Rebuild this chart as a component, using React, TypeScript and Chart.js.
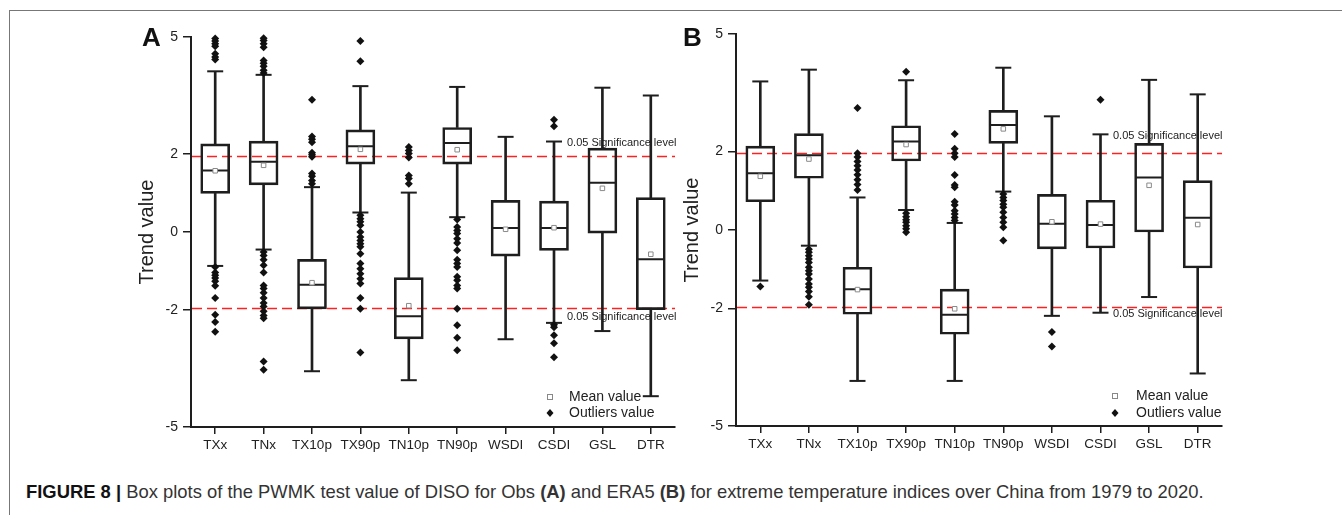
import React, { useEffect, useRef } from 'react';
import { Chart, registerables } from 'chart.js';

Chart.register(...registerables);

const FONT = "'Liberation Sans', Arial, Helvetica, sans-serif";

// ---------- data ----------
const categories = ['TXx', 'TNx', 'TX10p', 'TX90p', 'TN10p', 'TN90p', 'WSDI', 'CSDI', 'GSL', 'DTR'];
const yTickValues = [5, 2, 0, -2, -5];
const significance = 1.96;
const significanceLabel = '0.05 Significance level';
const legendLabels = ['Mean value', 'Outliers value'];

// Panel A: Obs
const obsLow = [-0.87, -0.45, -3.57, 0.5, -3.8, 0.38, -2.75, -2.33, -2.54, -4.21];
const obsQ1 = [0.99, 1.21, -1.97, 1.74, -2.74, 1.74, -0.62, -0.47, -0.03, -1.99];
const obsMedian = [1.58, 1.8, -1.35, 2.2, -2.16, 2.28, 0.1, 0.1, 1.26, -0.7];
const obsQ3 = [2.26, 2.33, -0.7, 2.62, -1.17, 2.68, 0.81, 0.79, 2.15, 0.88];
const obsHigh = [4.12, 4.03, 1.15, 3.74, 1.01, 3.72, 2.44, 2.32, 3.7, 3.5];
const obsMean = [1.57, 1.71, -1.3, 2.12, -1.89, 2.11, 0.07, 0.11, 1.12, -0.57];
const obsOutliers: number[][] = [
  [4.96, 4.9, 4.83, 4.76, 4.57, 4.49, 4.42, -0.9, -1.04, -1.11, -1.18, -1.26, -1.38, -1.69, -2.12, -2.31, -2.56],
  [4.97, 4.91, 4.83, 4.74, 4.4, 4.33, 4.25, 4.15, 4.08, -0.51, -0.6, -0.71, -0.85, -1.04, -1.37, -1.45, -1.56, -1.69, -1.82, -1.91, -2.03, -2.14, -2.21, -3.32, -3.53],
  [3.39, 2.45, 2.38, 2.3, 2.03, 1.98, 1.93, 1.5, 1.43, 1.32, 1.24],
  [4.9, 4.38, 0.43, 0.34, 0.26, 0.17, 0.0, -0.13, -0.22, -0.3, -0.38, -0.56, -0.81, -0.94, -1.07, -1.2, -1.32, -1.69, -1.97, -3.09],
  [2.18, 2.09, 2.01, 1.91, 1.45, 1.37, 1.24],
  [0.32, 0.13, 0.04, -0.04, -0.17, -0.28, -0.47, -0.71, -0.81, -0.9, -1.15, -1.24, -1.37, -1.45, -1.97, -2.39, -2.71, -3.03],
  [],
  [2.88, 2.71, -2.38, -2.44, -2.65, -2.85, -3.21],
  [],
  [],
];

// Panel B: ERA5
const eraLow = [-1.29, -0.4, -3.85, 0.51, -3.85, 0.98, -2.19, -2.11, -1.71, -3.66];
const eraQ1 = [0.72, 1.32, -2.15, 1.76, -2.66, 2.21, -0.48, -0.46, -0.05, -0.97];
const eraMedian = [1.45, 1.91, -1.51, 2.26, -2.16, 2.68, 0.16, 0.13, 1.34, 0.31];
const eraQ3 = [2.14, 2.46, -0.95, 2.66, -1.51, 3.05, 0.91, 0.76, 2.21, 1.26];
const eraHigh = [3.79, 4.09, 0.83, 3.82, 0.18, 4.14, 2.9, 2.44, 3.83, 3.46];
const eraMean = [1.37, 1.81, -1.52, 2.18, -2.01, 2.58, 0.21, 0.15, 1.14, 0.14];
const eraOutliers: number[][] = [
  [-1.44],
  [-0.49, -0.57, -0.66, -0.74, -0.83, -0.95, -1.04, -1.12, -1.25, -1.38, -1.46, -1.57, -1.7, -1.91],
  [3.11, 1.96, 1.86, 1.75, 1.64, 1.53, 1.41, 1.28, 1.16, 1.02],
  [4.04, 0.43, 0.34, 0.26, 0.2, 0.11, 0.03, -0.06],
  [2.45, 2.07, 1.96, 1.86, 1.4, 1.15, 1.09, 0.72, 0.64, 0.49, 0.41, 0.32, 0.24],
  [0.92, 0.83, 0.75, 0.66, 0.58, 0.45, 0.32, 0.2, 0.07, -0.27],
  [-2.6, -2.97],
  [3.32],
  [],
  [],
];

// ---------- chart config ----------
type PanelCfg = {
  letter: string;
  low: number[]; q1: number[]; median: number[]; q3: number[]; high: number[]; mean: number[]; outliers: number[][];
  padTop: number; padRight: number; xAxisHeight: number;
  letterX: number; sigX: number; sigValues: number[];
  legendMarkerX: number; legendTextX: number; legendY: number[];
};

const DARK = '#1e1e1e';

const annotPlugin = {
  id: 'annot',
  beforeDatasetsDraw(chart: any, _args: any, opts: any) {
    const { ctx, chartArea, scales } = chart;
    const y = scales.y;
    ctx.save();
    ctx.strokeStyle = '#ff2020';
    ctx.lineWidth = 1.5;
    ctx.setLineDash([10, 5]);
    for (const v of [significance, -significance]) {
      const py = Math.round(y.getPixelForValue(v)) + 0.5;
      ctx.beginPath();
      ctx.moveTo(chartArea.left + 1, py);
      ctx.lineTo(chartArea.right, py);
      ctx.stroke();
    }
    ctx.restore();
  },
  afterDraw(chart: any, _args: any, opts: any) {
    const { ctx, scales } = chart;
    const y = scales.y;
    ctx.save();
    // significance labels
    ctx.fillStyle = '#222';
    ctx.font = `11px ${FONT}`;
    ctx.textAlign = 'left';
    ctx.textBaseline = 'middle';
    for (const v of opts.sigValues) {
      ctx.fillText(significanceLabel, opts.sigX, y.getPixelForValue(v));
    }
    // panel letter
    ctx.font = `bold 26px ${FONT}`;
    ctx.fillStyle = '#111';
    ctx.fillText(opts.letter, opts.letterX, 39);
    // legend
    ctx.font = `14px ${FONT}`;
    ctx.fillStyle = '#222';
    const mx = opts.legendMarkerX;
    const [y1, y2] = opts.legendY;
    ctx.fillText(legendLabels[0], opts.legendTextX, y1);
    ctx.fillText(legendLabels[1], opts.legendTextX, y2);
    ctx.lineWidth = 1;
    ctx.strokeStyle = '#888';
    ctx.fillStyle = '#fff';
    ctx.fillRect(mx - 2.5, y1 - 2.5, 5, 5);
    ctx.strokeRect(mx - 2.5, y1 - 2.5, 5, 5);
    ctx.fillStyle = '#111';
    ctx.beginPath();
    ctx.moveTo(mx, y2 - 4);
    ctx.lineTo(mx + 3.5, y2);
    ctx.lineTo(mx, y2 + 4);
    ctx.lineTo(mx - 3.5, y2);
    ctx.closePath();
    ctx.fill();
    ctx.restore();
  },
};

function makeConfig(p: PanelCfg): any {
  const lowerWhisker = categories.map((_, i) => [p.low[i], p.q1[i]]);
  const upperWhisker = categories.map((_, i) => [p.q3[i], p.high[i]]);
  const boxes = categories.map((_, i) => [p.q1[i], p.q3[i]]);
  const caps = categories.flatMap((c, i) => [{ x: c, y: p.low[i] }, { x: c, y: p.high[i] }]);
  const medians = categories.map((c, i) => ({ x: c, y: p.median[i] }));
  const means = categories.map((c, i) => ({ x: c, y: p.mean[i] }));
  const outs = categories.flatMap((c, i) => p.outliers[i].map((v) => ({ x: c, y: v })));

  return {
    type: 'bar',
    data: {
      labels: categories,
      datasets: [
        { type: 'bar', data: lowerWhisker, barThickness: 2, backgroundColor: DARK, borderWidth: 0, grouped: false, order: 7 },
        { type: 'bar', data: upperWhisker, barThickness: 2, backgroundColor: DARK, borderWidth: 0, grouped: false, order: 6 },
        { type: 'bar', data: boxes, barThickness: 29, backgroundColor: 'rgba(255,255,255,0)', borderColor: DARK, borderWidth: 2, borderSkipped: false, grouped: false, order: 5 },
        { type: 'line', data: caps, showLine: false, pointStyle: 'line', pointRadius: 8, pointBorderWidth: 2, pointBorderColor: DARK, order: 4, clip: false },
        { type: 'line', data: medians, showLine: false, pointStyle: 'line', pointRadius: 13.5, pointBorderWidth: 2, pointBorderColor: DARK, order: 3 },
        { type: 'line', data: means, showLine: false, pointStyle: 'rect', pointRadius: 3.2, pointBorderWidth: 1, pointBorderColor: '#8a8a8a', pointBackgroundColor: '#fff', order: 2 },
        { type: 'line', data: outs, showLine: false, pointStyle: 'rectRot', pointRadius: 4, pointBorderWidth: 0, pointBorderColor: '#111', pointBackgroundColor: '#111', order: 1, clip: false },
      ],
    },
    options: {
      animation: false,
      responsive: false,
      maintainAspectRatio: false,
      events: [],
      layout: { padding: { top: p.padTop, right: p.padRight, left: 0, bottom: 0 } },
      plugins: {
        legend: { display: false },
        tooltip: { enabled: false },
        annot: {
          letter: p.letter, letterX: p.letterX, sigX: p.sigX, sigValues: p.sigValues,
          legendMarkerX: p.legendMarkerX, legendTextX: p.legendTextX, legendY: p.legendY,
        },
      },
      scales: {
        x: {
          type: 'category',
          offset: true,
          grid: { display: true, drawOnChartArea: false, drawTicks: true, tickLength: 7, color: DARK, lineWidth: 1.5, offset: false },
          border: { display: true, color: DARK, width: 2 },
          ticks: { font: { family: FONT, size: 13.5 }, color: '#222', padding: 3, maxRotation: 0, autoSkip: false },
          afterFit: (s: any) => { s.height = p.xAxisHeight; },
        },
        y: {
          type: 'linear',
          min: -5,
          max: 5,
          afterBuildTicks: (s: any) => { s.ticks = yTickValues.map((v) => ({ value: v })); },
          grid: { display: true, drawOnChartArea: false, drawTicks: true, tickLength: 8, color: DARK, lineWidth: 1.5 },
          border: { display: true, color: DARK, width: 2 },
          ticks: { font: { family: FONT, size: 14 }, color: '#222', padding: 5 },
          title: { display: true, text: 'Trend value', font: { family: FONT, size: 20 }, color: '#222', padding: { top: 35, bottom: 0 } },
          afterFit: (s: any) => { s.width = 91; },
        },
      },
    },
    plugins: [annotPlugin],
  };
}

const panelA: PanelCfg = {
  letter: 'A', low: obsLow, q1: obsQ1, median: obsMedian, q3: obsQ3, high: obsHigh, mean: obsMean, outliers: obsOutliers,
  padTop: 37, padRight: 25, xAxisHeight: 43,
  letterX: 42, sigX: 467, sigValues: [2.28, -2.18],
  legendMarkerX: 450, legendTextX: 469, legendY: [397, 413],
};

const panelB: PanelCfg = {
  letter: 'B', low: eraLow, q1: eraQ1, median: eraMedian, q3: eraQ3, high: eraHigh, mean: eraMean, outliers: eraOutliers,
  padTop: 34, padRight: 23, xAxisHeight: 44,
  letterX: 38, sigX: 468, sigValues: [2.41, -2.14],
  legendMarkerX: 470, legendTextX: 491, legendY: [396, 413],
};

function Panel({ left, cfg }: { left: number; cfg: PanelCfg }) {
  const ref = useRef<HTMLCanvasElement>(null);
  useEffect(() => {
    const chart = new Chart(ref.current as HTMLCanvasElement, makeConfig(cfg));
    return () => chart.destroy();
  }, [cfg]);
  return (
    <canvas
      ref={ref}
      width={600}
      height={470}
      style={{ position: 'absolute', left, top: 0, width: 600, height: 470 }}
    />
  );
}

export default function App() {
  return (
    <div style={{ position: 'fixed', left: 0, top: 0, width: 1342, height: 515, background: '#fff', overflow: 'hidden' }}>
      <div style={{ position: 'absolute', left: 9, top: 10, width: 1333, height: 1, background: '#777' }} />
      <div style={{ position: 'absolute', left: 9, top: 10, width: 1, height: 505, background: '#777' }} />
      <Panel left={100} cfg={panelA} />
      <Panel left={645} cfg={panelB} />
      <div
        style={{
          position: 'absolute', left: 26, top: 481, whiteSpace: 'nowrap',
          fontFamily: FONT, fontSize: 18.4, lineHeight: '21px', color: '#333',
        }}
      >
        <b style={{ color: '#111' }}>FIGURE 8 | </b>
        Box plots of the PWMK test value of DISO for Obs <b>(A)</b> and ERA5 <b>(B)</b> for extreme temperature indices over China from 1979 to 2020.
      </div>
    </div>
  );
}
